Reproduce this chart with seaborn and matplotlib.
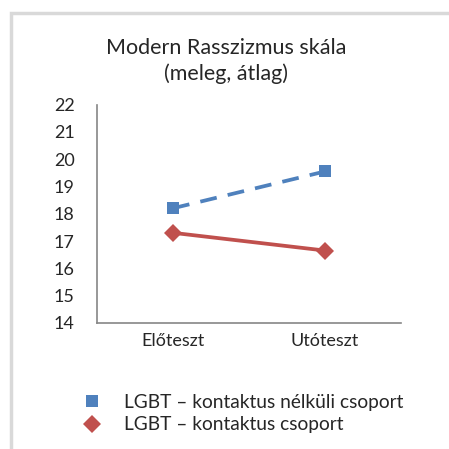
import pandas as pd
import matplotlib
matplotlib.use('Agg')
import matplotlib.pyplot as plt
import seaborn as sns
from matplotlib.lines import Line2D
from matplotlib.patches import Rectangle

# Adatok
idopontok = ['Előteszt', 'Utóteszt']
nelkuli = [18.2, 19.55]
kontaktus = [17.3, 16.65]
sorozatok = ['LGBT – kontaktus nélküli csoport', 'LGBT – kontaktus csoport']
y_ticks = list(range(14, 23))

df = pd.DataFrame({
    'Időpont': idopontok * 2,
    'Érték': nelkuli + kontaktus,
    'Csoport': [sorozatok[0]] * 2 + [sorozatok[1]] * 2,
})

sns.set_style('white')
plt.rcParams['font.family'] = ['Lato', 'DejaVu Sans']

kek = '#4F81BD'
piros = '#C0504D'

fig = plt.figure(figsize=(4.49, 4.49), dpi=100)
ax = fig.add_axes([0.216, 0.281, 0.677, 0.486])

sns.lineplot(data=df[df['Csoport'] == sorozatok[0]], x='Időpont', y='Érték',
             color=kek, linewidth=2.7, marker='s', markersize=9,
             markeredgewidth=0, dashes=False, sort=False, ax=ax, legend=False)
sns.lineplot(data=df[df['Csoport'] == sorozatok[1]], x='Időpont', y='Érték',
             color=piros, linewidth=2.7, marker='D', markersize=9,
             markeredgewidth=0, sort=False, ax=ax, legend=False)
ax.lines[0].set_linestyle((0, (4.5, 3)))

ax.set_xlim(-0.5, 1.5)
ax.set_ylim(14, 22)
ax.set_yticks(y_ticks)
ax.set_xlabel('')
ax.set_ylabel('')
ax.tick_params(axis='y', length=0, pad=16, labelsize=13)
ax.tick_params(axis='x', length=0, pad=7, labelsize=13)
for s in ['top', 'right']:
    ax.spines[s].set_visible(False)
for s in ['left', 'bottom']:
    ax.spines[s].set_color('#868686')
    ax.spines[s].set_linewidth(1.2)

fig.text(226 / 449, 1 - 61 / 449, 'Modern Rasszizmus skála\n(meleg, átlag)',
         ha='center', va='center', fontsize=15.5, linespacing=1.35)

handles = [
    Line2D([], [], color=kek, marker='s', linestyle='none', markersize=9, markeredgewidth=0),
    Line2D([], [], color=piros, marker='D', linestyle='none', markersize=9, markeredgewidth=0),
]
fig.legend(handles, sorozatok, loc='upper left', bbox_to_anchor=(80 / 449, 1 - 394 / 449),
           frameon=False, fontsize=13.8, handlelength=1.2, handletextpad=1.1,
           labelspacing=0.28, borderaxespad=0, borderpad=0)

# keret
fig.patches.append(Rectangle((11 / 449, -0.1), 1.2, 1 - 13 / 449 + 0.1,
                             transform=fig.transFigure, fill=False,
                             edgecolor='#D9D9D9', linewidth=2.5))

fig.savefig('out.png', dpi=100)
